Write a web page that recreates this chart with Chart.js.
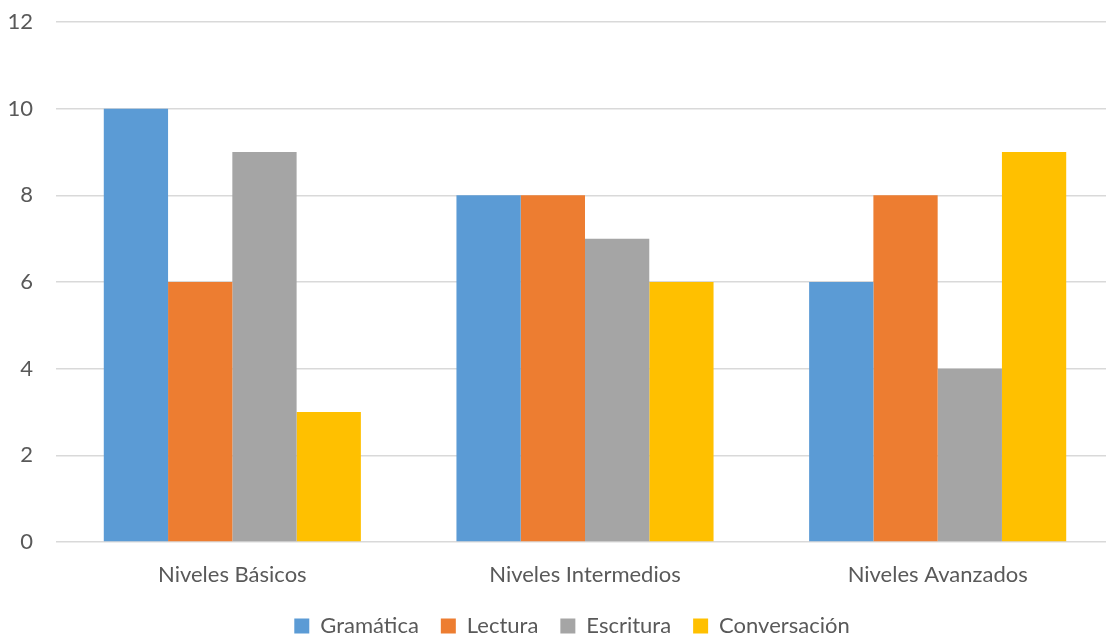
<!DOCTYPE html>
<html>
<head>
<meta charset="utf-8">
<script src="https://cdn.jsdelivr.net/npm/chart.js@4.4.1/dist/chart.umd.min.js"></script>
<style>
  html, body { margin: 0; padding: 0; background: #fff; overflow: hidden; }
  .clip { width: 1106px; height: 636px; overflow: hidden; }
  .wrap { width: 1144px; height: 647px; position: relative; }
</style>
</head>
<body>
<div class="clip"><div class="wrap"><canvas id="chart"></canvas></div></div>
<script>
const categories = ['Niveles Básicos', 'Niveles Intermedios', 'Niveles Avanzados'];
const gramatica = [10, 8, 6];
const lectura = [6, 8, 8];
const escritura = [9, 7, 4];
const conversacion = [3, 6, 9];
const yTicks = [0, 2, 4, 6, 8, 10, 12];

const textColor = '#595959';
const fontFamily = 'Lato, "Open Sans", sans-serif';

new Chart(document.getElementById('chart'), {
  type: 'bar',
  data: {
    labels: categories,
    datasets: [
      { label: 'Gramática', data: gramatica, backgroundColor: '#5B9BD5' },
      { label: 'Lectura', data: lectura, backgroundColor: '#ED7D31' },
      { label: 'Escritura', data: escritura, backgroundColor: '#A5A5A5' },
      { label: 'Conversación', data: conversacion, backgroundColor: '#FFC000' }
    ]
  },
  options: {
    responsive: true,
    maintainAspectRatio: false,
    animation: false,
    layout: { padding: { left: 0, right: 0, top: 22, bottom: 0 } },
    datasets: { bar: { categoryPercentage: 0.729, barPercentage: 1 } },
    plugins: {
      legend: {
        position: 'bottom',
        labels: {
          color: textColor,
          font: { family: fontFamily, size: 22 },
          boxWidth: 15,
          boxHeight: 15,
          padding: 22
        }
      },
      tooltip: { enabled: false }
    },
    scales: {
      x: {
        grid: { display: false },
        border: { display: false },
        afterFit: (scale) => { scale.height = 51; },
        ticks: { color: textColor, font: { family: fontFamily, size: 22 }, padding: 12 }
      },
      y: {
        min: 0,
        max: 12,
        afterBuildTicks: (scale) => { scale.ticks = yTicks.map(v => ({ value: v })); },
        afterFit: (scale) => {
          scale.width = 56;
          scale.paddingTop = 0;
          scale.paddingBottom = 0;
        },
        grid: { color: '#D9D9D9', lineWidth: 1.5, drawTicks: false },
        border: { display: false },
        ticks: { color: textColor, font: { family: fontFamily, size: 22 }, padding: 23 }
      },
      // empty right axis: the plot runs a little past the visible edge, as in the original
      yRight: {
        position: 'right',
        min: 0,
        max: 12,
        afterFit: (scale) => {
          scale.width = 30;
          scale.paddingTop = 0;
          scale.paddingBottom = 0;
        },
        grid: { display: false },
        border: { display: false },
        ticks: { display: false }
      }
    }
  }
});
</script>
</body>
</html>
